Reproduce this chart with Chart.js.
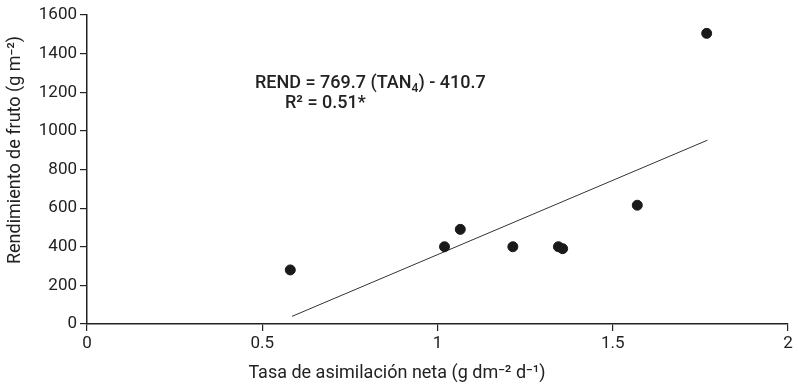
<!DOCTYPE html>
<html>
<head>
<meta charset="utf-8">
<script src="https://cdn.jsdelivr.net/npm/chart.js@4"></script>
<style>
  html, body { margin: 0; padding: 0; background: #fff; }
  #chart { display: block; }
</style>
</head>
<body>
<canvas id="chart" width="798" height="387"></canvas>
<script>
// datos
const tanValues = [0.58, 1.02, 1.065, 1.215, 1.345, 1.357, 1.57, 1.768];
const rendValues = [280, 400, 490, 400, 400, 390, 615, 1505];
const fitSlope = 769.7;
const fitIntercept = -410.7;
const fitRange = [0.585, 1.77];
const xTicks = [0, 0.5, 1, 1.5, 2];

const points = tanValues.map((x, i) => ({ x: x, y: rendValues[i] }));
const fitLine = fitRange.map((x) => ({ x: x, y: fitSlope * x + fitIntercept }));

const ink = '#222';
const font = { family: 'Roboto', size: 17 };

// ecuación y títulos de ejes
const textPlugin = {
  id: 'texts',
  afterDraw(chart) {
    const { ctx } = chart;
    ctx.save();
    ctx.fillStyle = ink;
    ctx.textBaseline = 'alphabetic';
    ctx.font = '500 18px Roboto';
    let x = 255;
    const y = 88;
    const part1 = 'REND = 769.7 (TAN';
    ctx.fillText(part1, x, y);
    x += ctx.measureText(part1).width;
    ctx.font = '500 12px Roboto';
    ctx.fillText('4', x, y + 4);
    x += ctx.measureText('4').width;
    ctx.font = '500 18px Roboto';
    ctx.fillText(') - 410.7', x, y);
    ctx.fillText('R\u00B2 = 0.51*', 285, 108);

    ctx.font = '18px Roboto';
    ctx.textAlign = 'center';
    ctx.textBaseline = 'middle';
    ctx.fillText('Tasa de asimilación neta (g dm\u207B\u00B2 d\u207B\u00B9)', 397, 373);
    ctx.translate(15, 150);
    ctx.rotate(-Math.PI / 2);
    ctx.fillText('Rendimiento de fruto (g m\u207B\u00B2)', 0, 0);
    ctx.restore();
  },
};

new Chart(document.getElementById('chart'), {
  type: 'scatter',
  data: {
    datasets: [
      {
        label: 'Observado',
        data: points,
        backgroundColor: '#1a1a1a',
        borderColor: '#1a1a1a',
        pointRadius: 5,
      },
      {
        type: 'line',
        label: 'Ajuste',
        data: fitLine,
        borderColor: '#333',
        borderWidth: 1,
        pointRadius: 0,
        fill: false,
      },
    ],
  },
  options: {
    responsive: false,
    animation: false,
    layout: { padding: { top: 15, right: 10, left: 0, bottom: 0 } },
    plugins: {
      legend: { display: false },
      tooltip: { enabled: false },
    },
    scales: {
      x: {
        type: 'linear',
        min: 0,
        max: 2,
        afterBuildTicks: (axis) => {
          axis.ticks = xTicks.map((v) => ({ value: v }));
        },
        afterFit: (axis) => {
          axis.height = 63;
        },
        grid: { drawOnChartArea: false, color: ink, tickLength: 7, lineWidth: 1.2 },
        border: { color: ink, width: 1.5 },
        ticks: {
          color: ink,
          font: font,
          padding: 3,
          maxRotation: 0,
          callback: (v) => String(v),
        },
      },
      y: {
        min: 0,
        max: 1600,
        afterFit: (axis) => {
          axis.width = 87;
        },
        grid: { drawOnChartArea: false, color: ink, tickLength: 7, lineWidth: 1.2 },
        border: { color: ink, width: 1.5 },
        ticks: {
          stepSize: 200,
          color: ink,
          font: font,
          padding: 3,
          callback: (v) => String(v),
        },
      },
    },
  },
  plugins: [textPlugin],
});
</script>
</body>
</html>
